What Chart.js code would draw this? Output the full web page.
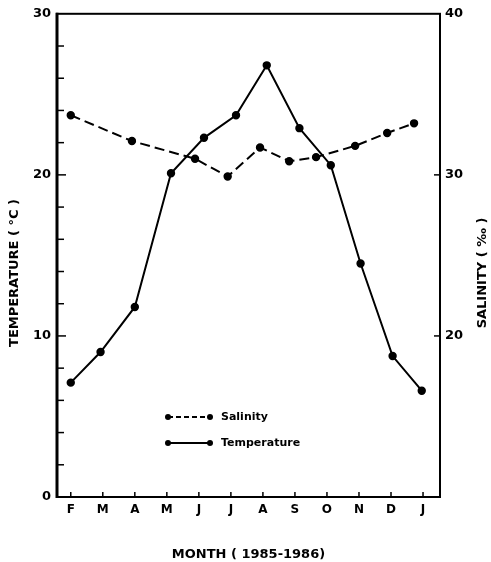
<!DOCTYPE html>
<html lang="en">
<head>
  <meta charset="UTF-8" />
  <title>Temperature and Salinity 1985-1986</title>
  <script src="https://cdn.jsdelivr.net/npm/chart.js"></script>
  <style>
    body { margin: 0; background: #fff; }
  </style>
</head>
<body>
<canvas id="chart" width="491" height="562"></canvas>

<script>
  // month tick labels (Feb 1985 .. Jan 1986)
  const months = ["F", "M", "A", "M", "J", "J", "A", "S", "O", "N", "D", "J"];

  // temperature samples: month position and value (°C)
  const tempMonth = [0, 0.93, 2.0, 3.13, 4.16, 5.16, 6.12, 7.14, 8.12, 9.05, 10.05, 10.96];
  const tempValues = [7.1, 9.0, 11.8, 20.1, 22.3, 23.7, 26.8, 22.9, 20.6, 14.5, 8.75, 6.6];

  // salinity samples: month position and value (per mille)
  const salMonth = [0, 1.91, 3.88, 4.9, 5.91, 6.82, 7.66, 8.88, 9.88, 10.72];
  const salValues = [33.7, 32.1, 31.0, 29.9, 31.7, 30.85, 31.1, 31.8, 32.6, 33.2];

  const ink = '#000';
  const monthFont = { family: 'DejaVu Sans', size: 12, weight: 'bold' };
  const numFont = { family: 'DejaVu Sans', size: 13, weight: 'bold' };

  const toPoints = (xs, ys) => xs.map((x, i) => ({ x: x, y: ys[i] }));

  function line(ctx, x1, y1, x2, y2) {
    ctx.beginPath();
    ctx.moveTo(x1, y1);
    ctx.lineTo(x2, y2);
    ctx.stroke();
  }

  function dot(ctx, x, y) {
    ctx.beginPath();
    ctx.arc(x, y, 3, 0, Math.PI * 2);
    ctx.fill();
  }

  // frame, inward ticks, vertical titles and the legend
  const decor = {
    id: 'decor',
    afterDraw(chart) {
      const { ctx, chartArea: a, scales } = chart;
      const x = scales.x, yT = scales.yTemp, yS = scales.ySal;
      ctx.save();
      ctx.strokeStyle = ink;
      ctx.fillStyle = ink;

      ctx.lineWidth = 2;
      ctx.strokeRect(a.left, a.top, a.width, a.height);
      ctx.lineWidth = 3;
      line(ctx, a.left, a.top - 1, a.left, a.bottom + 1);

      ctx.lineWidth = 1.5;
      for (let v = 2; v < 30; v += 2) {
        const py = yT.getPixelForValue(v);
        line(ctx, a.left, py, a.left + (v % 10 === 0 ? 9 : 7), py);
      }
      [20, 30].forEach(v => {
        const py = yS.getPixelForValue(v);
        line(ctx, a.right - 6, py, a.right, py);
      });
      months.forEach((m, i) => {
        const px = x.getPixelForValue(i);
        line(ctx, px, a.bottom, px, a.bottom - 5);
      });

      // axis titles, both reading bottom to top
      ctx.font = 'bold 13px "DejaVu Sans"';
      ctx.textAlign = 'center';
      ctx.textBaseline = 'middle';
      ctx.save();
      ctx.translate(15, 273);
      ctx.rotate(-Math.PI / 2);
      ctx.fillText('TEMPERATURE ( °C )', 0, 0);
      ctx.restore();
      ctx.save();
      ctx.translate(483, 273);
      ctx.rotate(-Math.PI / 2);
      ctx.fillText('SALINITY ( ‰ )', 0, 0);
      ctx.restore();

      // legend
      ctx.font = 'bold 11px "DejaVu Sans"';
      ctx.textAlign = 'left';
      ctx.lineWidth = 2;
      ctx.setLineDash([5, 3]);
      line(ctx, 168, 417, 210, 417);
      ctx.setLineDash([]);
      dot(ctx, 168, 417); dot(ctx, 210, 417);
      ctx.fillText('Salinity', 221, 417);
      line(ctx, 168, 443, 210, 443);
      dot(ctx, 168, 443); dot(ctx, 210, 443);
      ctx.fillText('Temperature', 221, 443);
      ctx.restore();
    }
  };

  new Chart(document.getElementById('chart'), {
    type: 'line',
    data: {
      datasets: [
        {
          label: 'Salinity',
          data: toPoints(salMonth, salValues),
          yAxisID: 'ySal',
          borderColor: ink,
          backgroundColor: ink,
          borderWidth: 2,
          borderDash: [10, 5],
          pointRadius: 3.2,
          tension: 0
        },
        {
          label: 'Temperature',
          data: toPoints(tempMonth, tempValues),
          yAxisID: 'yTemp',
          borderColor: ink,
          backgroundColor: ink,
          borderWidth: 2,
          pointRadius: 3.2,
          tension: 0
        }
      ]
    },
    options: {
      responsive: false,
      animation: false,
      devicePixelRatio: 1,
      layout: { padding: { top: 13, left: 0, right: 0, bottom: 0 } },
      plugins: {
        legend: { display: false },
        tooltip: { enabled: false }
      },
      scales: {
        x: {
          type: 'linear',
          min: -0.43,
          max: 11.53,
          grid: { display: false, drawTicks: false },
          border: { display: false },
          ticks: {
            stepSize: 1,
            includeBounds: false,
            autoSkip: false,
            maxRotation: 0,
            padding: 6,
            color: ink,
            font: monthFont,
            callback: v => months[v] ?? ''
          },
          title: {
            display: true,
            text: 'MONTH ( 1985-1986)',
            color: ink,
            font: { family: 'DejaVu Sans', size: 13, weight: 'bold' },
            padding: { top: 0, bottom: 0 }
          },
          afterFit: s => { s.height = 65; }
        },
        yTemp: {
          position: 'left',
          min: 0,
          max: 30,
          grid: { display: false, drawTicks: false },
          border: { display: false },
          ticks: { stepSize: 10, padding: 6, color: ink, font: numFont },
          afterFit: s => { s.width = 57; }
        },
        ySal: {
          position: 'right',
          min: 10,
          max: 40,
          grid: { display: false, drawTicks: false },
          border: { display: false },
          ticks: {
            stepSize: 10,
            padding: 5,
            color: ink,
            font: numFont,
            callback: v => (v === 10 ? '' : v)
          },
          afterFit: s => { s.width = 51; }
        }
      }
    },
    plugins: [decor]
  });
</script>
</body>
</html>
